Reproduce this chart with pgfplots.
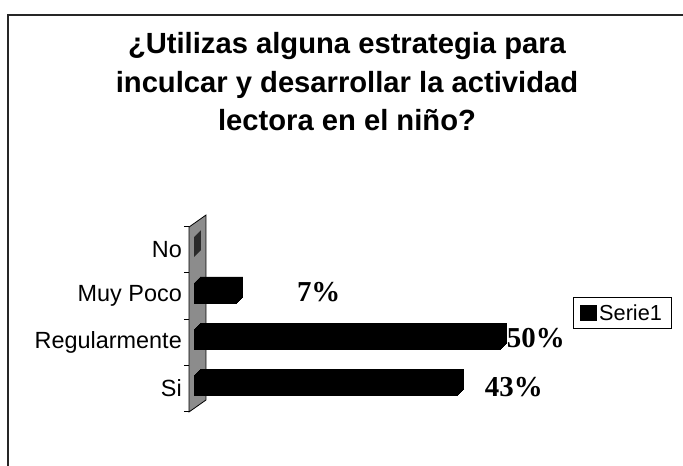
\documentclass[border=0pt]{standalone}
\usepackage{pgfplots}
\usepackage{pgfplotstable}
\pgfplotsset{compat=1.18}
\usepackage{fontspec}
\setmainfont{Liberation Sans}
\newfontfamily\timesfont{Liberation Serif}
\definecolor{wallgray}{RGB}{140,140,140}
\pgfplotstableread{
y val
0 43
1 50
2 7
3 0
}\datatable
\begin{document}
\begin{tikzpicture}
\useasboundingbox (0bp,0bp) rectangle (683bp,466bp);
\draw[line width=1.2bp, black!85] (8bp,0bp) -- (8bp,451bp) -- (683bp,451bp);
\node[font=\bfseries\fontsize{29.3}{34}\selectfont, anchor=base, inner sep=0pt] at (347bp,412bp) {¿Utilizas alguna estrategia para};
\node[font=\bfseries\fontsize{29.3}{34}\selectfont, anchor=base, inner sep=0pt] at (347bp,373bp) {inculcar y desarrollar la actividad};
\node[font=\bfseries\fontsize{29.3}{34}\selectfont, anchor=base, inner sep=0pt] at (347bp,335bp) {lectora en el niño?};
\begin{axis}[
  at={(189bp,54.4bp)}, anchor=south west,
  x=6.12bp, y=46.25bp,
  xmin=-0.817, xmax=60, ymin=-0.5, ymax=3.5,
  clip=false,
  axis line style={draw=none},
  xtick=\empty,
  ytick={0,1,2,3},
  yticklabels={Si,Regularmente,Muy Poco,No},
  minor ytick={-0.5,0.5,1.5,2.5,3.5},
  ytick pos=left,
  tick align=outside,
  major tick length=0bp,
  minor tick length=5bp,
  every minor tick/.append style={black, line width=0.8bp},
  yticklabel style={font=\fontsize{23.5}{26}\selectfont, inner sep=0pt, xshift=-7bp},
  xbar, bar width=20bp,
  legend style={at={(axis description cs:1.0317,0.6195)}, anchor=north west,
    draw=black, line width=0.8bp, font=\fontsize{21.8}{24}\selectfont,
    inner xsep=7bp, inner ysep=5bp, cells={anchor=west}},
]
\filldraw[fill=wallgray, draw=black, line width=0.8bp]
  (axis cs:-0.817,-0.508) -- (axis cs:-0.817,3.49) -- (axis cs:1.96,3.75) -- (axis cs:1.96,-0.249) -- cycle;
\pgfplotsinvokeforeach{0,...,6}{
  \addplot[fill=black, draw=black, line width=0.8bp, bar shift=3bp, xshift=#1bp, yshift=#1bp, forget plot]
    table[x=val,y=y]{\datatable};
}
\addlegendimage{legend image code/.code={\fill[black] (0bp,-7.5bp) rectangle (16bp,7.5bp);}}
\addlegendentry{Serie1}
\node[font=\timesfont\bfseries\fontsize{29}{31}\selectfont, anchor=base west, inner sep=0pt] at (axis cs:16.8,1.87) {7\%};
\node[font=\timesfont\bfseries\fontsize{29}{31}\selectfont, anchor=base west, inner sep=0pt] at (axis cs:51.1,0.876) {50\%};
\node[font=\timesfont\bfseries\fontsize{29}{31}\selectfont, anchor=base west, inner sep=0pt] at (axis cs:47.5,-0.184) {43\%};
\end{axis}
\end{tikzpicture}
\end{document}
